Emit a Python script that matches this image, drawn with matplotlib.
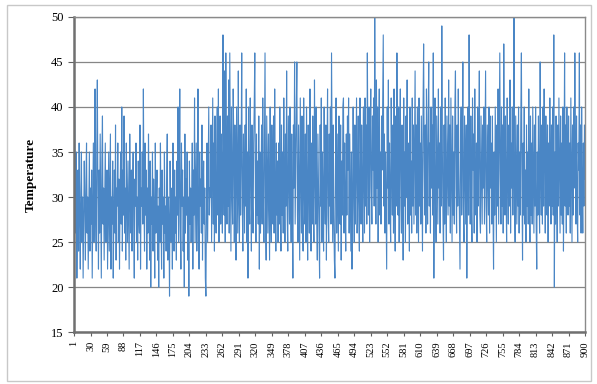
import matplotlib
matplotlib.use("Agg")
import matplotlib.pyplot as plt
from matplotlib.patches import Rectangle

# temperature readings, 30 per row (samples 1..900)
temp_rows = [
    [38, 40, 31, 26, 35, 21, 29, 33, 24, 36, 28, 22, 31, 35, 25, 30, 21, 27, 34, 29, 23, 32, 36, 26, 30, 22, 28, 35, 24, 31],
    [27, 33, 21, 29, 36, 25, 31, 42, 28, 24, 35, 43, 30, 22, 33, 26, 37, 29, 21, 34, 39, 27, 31, 23, 30, 36, 25, 28, 33, 22],
    [29, 35, 24, 31, 37, 22, 30, 27, 34, 21, 28, 33, 26, 38, 23, 31, 29, 36, 25, 32, 22, 30, 35, 27, 40, 24, 33, 28, 39, 26],
    [31, 23, 36, 29, 25, 34, 28, 22, 37, 30, 26, 33, 24, 31, 35, 27, 21, 32, 29, 36, 25, 30, 23, 34, 28, 26, 38, 22, 31, 29],
    [35, 27, 42, 30, 24, 36, 28, 33, 22, 31, 26, 37, 29, 23, 34, 20, 30, 27, 35, 24, 32, 28, 21, 36, 26, 30, 33, 23, 29, 20],
    [31, 25, 36, 28, 22, 33, 27, 30, 21, 35, 26, 29, 24, 32, 37, 23, 30, 27, 19, 34, 28, 25, 31, 22, 36, 29, 24, 33, 26, 30],
    [23, 34, 28, 40, 25, 31, 42, 27, 22, 36, 29, 33, 24, 30, 20, 37, 26, 32, 28, 35, 23, 30, 19, 34, 27, 31, 25, 29, 36, 22],
    [33, 28, 41, 25, 31, 36, 24, 30, 42, 27, 22, 35, 29, 32, 26, 38, 23, 30, 34, 27, 31, 21, 19, 29, 36, 25, 33, 40, 28, 31],
    [30, 38, 25, 33, 41, 27, 36, 24, 39, 31, 26, 35, 40, 28, 42, 25, 34, 39, 27, 37, 32, 26, 48, 36, 28, 44, 25, 46, 34, 27],
    [39, 29, 43, 26, 46, 35, 24, 40, 31, 27, 42, 36, 25, 38, 29, 23, 40, 33, 26, 44, 30, 25, 38, 28, 35, 46, 29, 24, 37, 31],
    [26, 38, 29, 42, 25, 35, 21, 40, 30, 27, 41, 34, 24, 38, 29, 26, 36, 40, 46, 31, 25, 37, 28, 34, 27, 39, 22, 35, 26, 31],
    [38, 27, 41, 30, 25, 36, 46, 28, 23, 39, 33, 26, 37, 30, 23, 40, 29, 25, 38, 31, 27, 39, 26, 42, 30, 24, 36, 28, 34, 25],
    [36, 27, 40, 30, 24, 38, 28, 35, 26, 41, 31, 25, 37, 29, 44, 28, 24, 39, 33, 27, 40, 30, 25, 37, 28, 21, 38, 31, 45, 27],
    [34, 40, 45, 28, 25, 38, 30, 23, 41, 34, 26, 39, 28, 24, 41, 31, 27, 37, 25, 40, 30, 23, 38, 33, 26, 42, 29, 24, 36, 27],
    [39, 29, 25, 43, 33, 27, 40, 28, 23, 37, 31, 26, 21, 38, 29, 41, 25, 35, 30, 24, 40, 31, 27, 38, 23, 34, 42, 28, 25, 37],
    [29, 40, 27, 46, 35, 25, 38, 28, 23, 21, 34, 41, 26, 37, 30, 24, 39, 31, 27, 38, 23, 34, 28, 40, 41, 26, 36, 29, 24, 37],
    [28, 39, 33, 41, 26, 37, 30, 24, 35, 22, 29, 40, 31, 25, 38, 27, 34, 41, 26, 30, 39, 28, 24, 41, 35, 27, 38, 30, 25, 40],
    [33, 26, 41, 29, 38, 27, 46, 35, 28, 40, 25, 36, 42, 31, 27, 39, 33, 41, 29, 50, 37, 27, 43, 31, 40, 25, 36, 42, 28, 35],
    [27, 39, 33, 41, 48, 29, 37, 26, 35, 28, 22, 40, 31, 43, 27, 36, 29, 25, 41, 33, 28, 38, 26, 42, 31, 24, 39, 29, 46, 34],
    [28, 40, 25, 36, 42, 29, 26, 38, 33, 23, 41, 29, 35, 25, 39, 30, 43, 27, 36, 31, 24, 40, 28, 34, 26, 41, 29, 38, 27, 35],
    [44, 28, 38, 26, 40, 33, 25, 41, 29, 36, 27, 39, 31, 24, 40, 47, 34, 28, 38, 26, 42, 33, 27, 39, 45, 29, 36, 26, 40, 31],
    [38, 28, 46, 21, 35, 41, 29, 25, 39, 33, 27, 42, 31, 36, 26, 40, 29, 49, 35, 28, 23, 38, 27, 41, 31, 25, 39, 33, 28, 43],
    [29, 38, 26, 41, 33, 25, 39, 28, 35, 27, 40, 44, 31, 26, 38, 29, 42, 33, 27, 22, 36, 40, 28, 35, 45, 29, 25, 39, 33, 27],
    [38, 21, 33, 40, 28, 48, 35, 27, 39, 29, 25, 41, 33, 37, 26, 42, 31, 28, 36, 25, 40, 29, 35, 44, 28, 26, 39, 33, 27, 38],
    [31, 40, 27, 36, 44, 29, 25, 38, 33, 28, 40, 26, 39, 31, 36, 27, 39, 29, 22, 35, 28, 40, 33, 25, 38, 29, 42, 27, 36, 46],
    [33, 27, 40, 29, 38, 26, 47, 35, 28, 39, 31, 25, 41, 33, 27, 38, 29, 43, 26, 36, 31, 40, 28, 35, 50, 29, 25, 39, 33, 27],
    [38, 29, 40, 26, 35, 28, 39, 46, 31, 23, 36, 28, 40, 27, 33, 25, 38, 29, 35, 27, 42, 31, 25, 39, 28, 36, 27, 40, 33, 26],
    [38, 29, 40, 27, 22, 35, 28, 39, 31, 26, 45, 33, 28, 38, 27, 40, 29, 42, 35, 26, 39, 31, 28, 38, 25, 36, 29, 41, 33, 27],
    [38, 29, 40, 28, 48, 20, 35, 27, 39, 31, 25, 38, 29, 41, 33, 26, 39, 28, 36, 27, 40, 24, 33, 46, 29, 38, 26, 40, 31, 28],
    [39, 29, 36, 26, 41, 33, 25, 38, 28, 40, 31, 46, 35, 27, 39, 29, 25, 36, 33, 46, 28, 38, 26, 40, 31, 26, 36, 29, 38, 32],
]
temperature = [v for row in temp_rows for v in row]
samples = list(range(1, len(temperature) + 1))
x_ticks = list(range(1, 901, 29))
y_ticks = [15, 20, 25, 30, 35, 40, 45, 50]

plt.rcParams['font.family'] = ['Liberation Serif', 'DejaVu Serif']

fig = plt.figure(figsize=(5.97, 3.84), dpi=100)
ax = fig.add_axes([0.124, 0.135, 0.856, 0.821])

# light chart frame
fig.patches.append(Rectangle((0.012, 0.008), 0.978, 0.978, transform=fig.transFigure,
                             fill=False, edgecolor='#c8c8c8', linewidth=1.0))

ax.plot(samples, temperature, color='#4a86c5', linewidth=0.8)

ax.set_xlim(1, 900)
ax.set_ylim(15, 50)
ax.set_yticks(y_ticks)
ax.set_xticks(x_ticks)
ax.set_xticklabels([str(t) for t in x_ticks], rotation=90, fontsize=7.5)
ax.tick_params(axis='y', labelsize=9, length=4, color='#606060')
ax.tick_params(axis='x', length=3, color='#606060')
ax.set_ylabel('Temperature', fontsize=9.5, fontweight='bold', labelpad=10)

ax.grid(axis='y', color='#868686', linewidth=0.9)
ax.set_axisbelow(True)
for side in ['left', 'bottom']:
    ax.spines[side].set_color('#707070')
    ax.spines[side].set_linewidth(1.8)
for side in ['top', 'right']:
    ax.spines[side].set_color('#8a8a8a')
    ax.spines[side].set_linewidth(1.0)

plt.savefig('out.png', dpi=100)
